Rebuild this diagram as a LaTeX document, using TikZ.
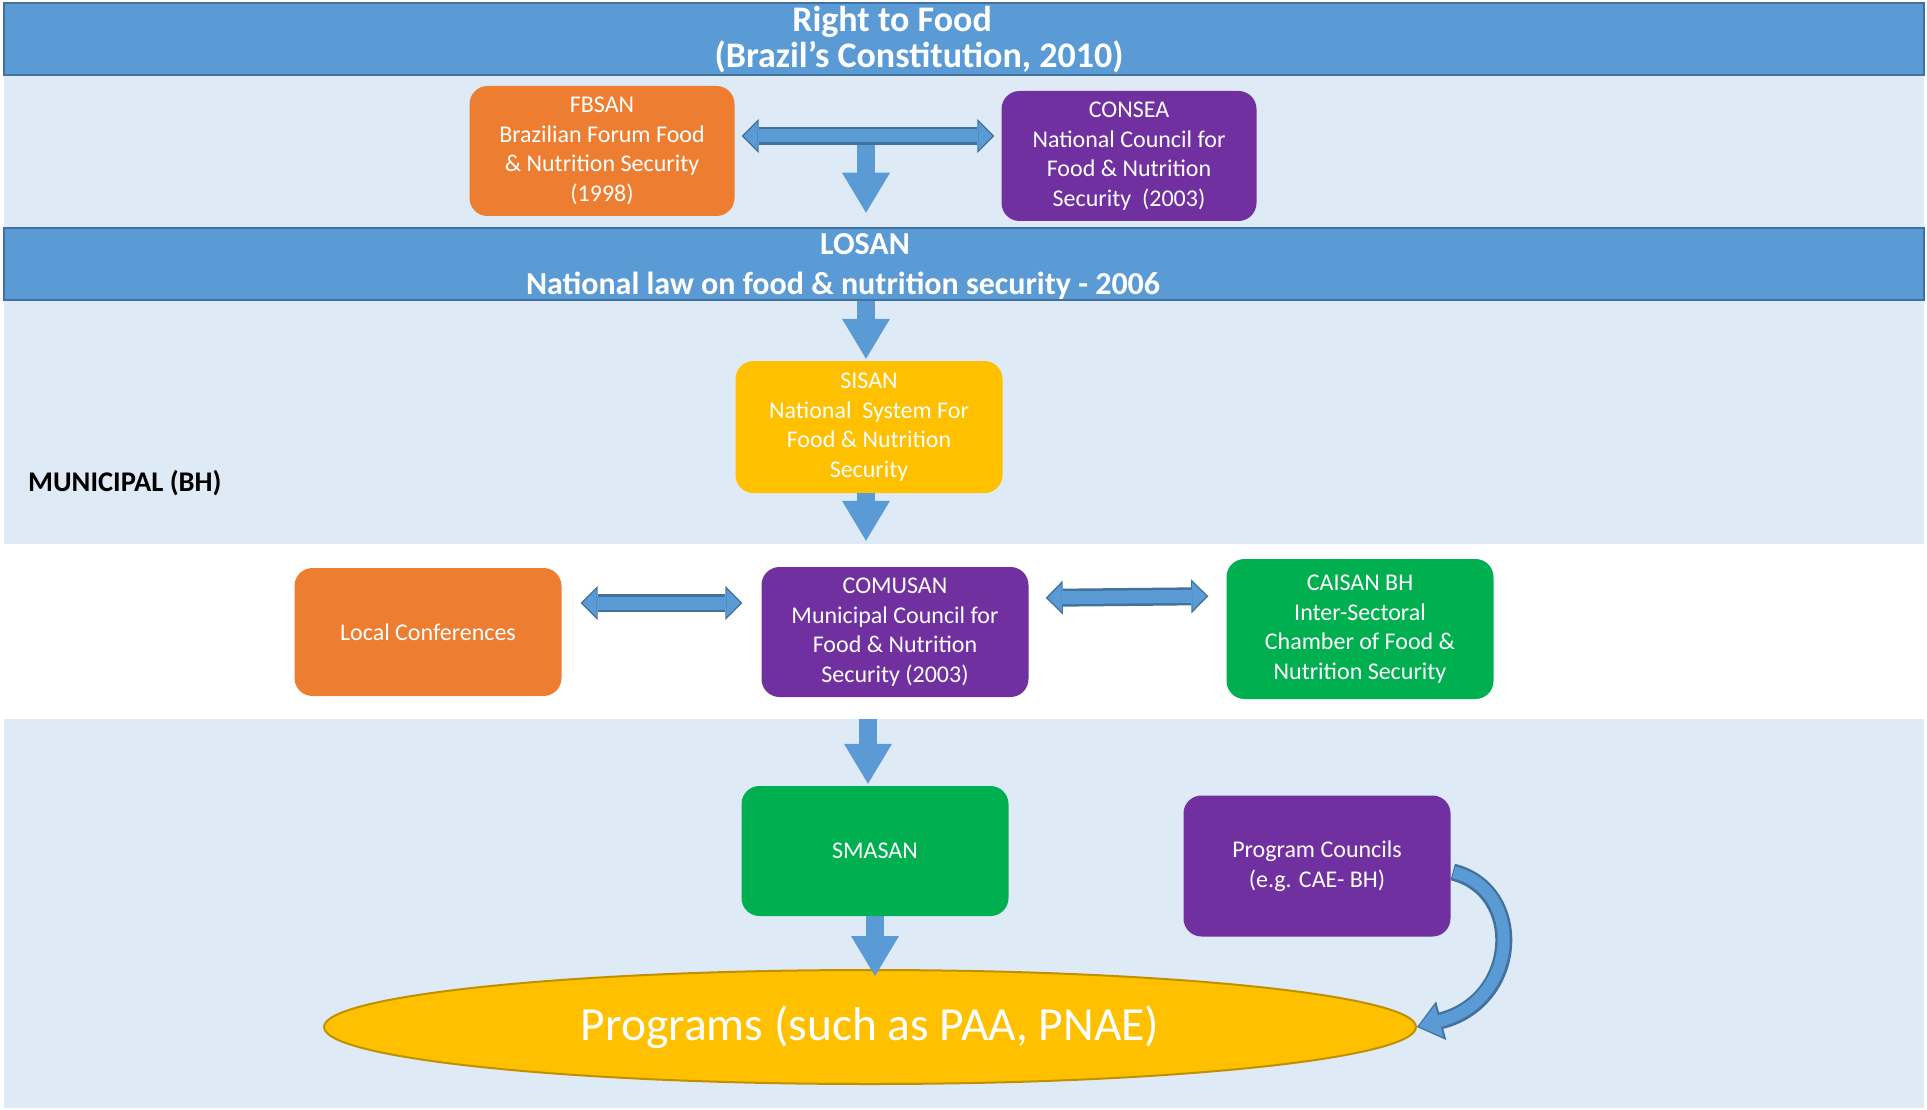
\documentclass[tikz,border=0pt]{standalone}
\usepackage{fontspec}
\setmainfont{Carlito}
\usetikzlibrary{arrows.meta,shapes.geometric,calc}
\definecolor{barblue}{HTML}{5B9BD5}
\definecolor{barline}{HTML}{41719C}
\definecolor{bandblue}{HTML}{DEEAF6}
\definecolor{forumorange}{HTML}{ED7D31}
\definecolor{councilpurple}{HTML}{7030A0}
\definecolor{chambergreen}{HTML}{00B050}
\definecolor{systemamber}{HTML}{FFC000}
\definecolor{ellipseline}{HTML}{BF9000}
\begin{document}
\begin{tikzpicture}[x=1pt, y=-1pt,
box/.style={rectangle, rounded corners=18pt, text=white, align=center, inner sep=0pt, minimum width=267pt, minimum height=130pt, font=\fontsize{24}{29.5}\selectfont},
forum/.style={box, fill=forumorange},
council/.style={box, fill=councilpurple},
chamber/.style={box, fill=chambergreen},
system/.style={box, fill=systemamber},
bar/.style={rectangle, fill=barblue, draw=barline, line width=2.5pt, minimum width=1920pt, minimum height=72pt, inner sep=0pt},
bartext/.style={text=white, align=center, inner sep=0pt, font=\fontsize{36}{36}\selectfont\bfseries},
down/.style={draw=barblue, line width=18pt, -{Triangle[width=48pt, length=40pt, line width=0pt]}},
both/.style={draw=barline, line width=18pt, {Triangle[width=34pt, length=17pt, line width=0pt]}-{Triangle[width=34pt, length=17pt, line width=0pt]}},
bothfill/.style={draw=barblue, line width=13pt, {Triangle[width=28pt, length=14pt, line width=0pt]}-{Triangle[width=28pt, length=14pt, line width=0pt]}},
feedback/.style={draw=barline, line width=17pt, -{Triangle[width=40pt, length=25pt, line width=0pt]}},
feedbackfill/.style={draw=barblue, line width=12pt, -{Triangle[width=33pt, length=21pt, line width=0pt]}},
]
\useasboundingbox (0,0) rectangle (1927,1110);
\fill[bandblue] (4,76) rectangle (1924,227);
\fill[bandblue] (4,301) rectangle (1924,544);
\fill[bandblue] (4,719) rectangle (1924,1108);
\node (rightbar) [bar] at (964,39) {};
\node (losanbar) [bar] at (964,264) {};
\node (right) [bartext] at (919,40) {\hspace*{-54pt}Right to Food\\(Brazil’s Constitution, 2010)};
\node (losan) [bartext, font=\fontsize{32}{40}\selectfont\bfseries] at (843,267) {\hspace*{44pt}LOSAN\\National law on food \& nutrition security - 2006};
\node (municipal) [anchor=west, inner sep=0pt, font=\fontsize{28.5}{34}\selectfont\bfseries] at (28,483) {MUNICIPAL (BH)};

\node (fbsan) [forum, minimum width=265pt] at (602,151) {FBSAN\\Brazilian Forum Food\\\& Nutrition Security\\(1998)};
\node (consea) [council, minimum width=255pt] at (1129,156) {CONSEA\\National Council for\\Food \& Nutrition\\Security\ \ (2003)};
\node (sisan) [system, minimum height=132pt] at (869,427) {SISAN\\National\ \ System For\\Food \& Nutrition\\Security};
\node (local) [forum, minimum height=128pt] at (428,632) {Local Conferences};
\node (comusan) [council] at (895,632) {COMUSAN\\Municipal Council for\\Food \& Nutrition\\Security (2003)};
\node (caisan) [chamber, minimum height=140pt] at (1360,629) {CAISAN BH\\Inter-Sectoral\\Chamber of Food \&\\Nutrition Security};
\node (smasan) [chamber] at (875,851) {SMASAN};
\node (pc) [council, minimum height=141pt] at (1317,866) {Program Councils\\(e.g. CAE- BH)};
\node (programs) [ellipse, fill=systemamber, draw=ellipseline, line width=2pt, minimum width=1092pt, minimum height=114pt, text=white, font=\fontsize{47.5}{56}\selectfont] at (870,1027) {Programs (such as PAA, PNAE)};

\coordinate (split) at (866,136);
\draw[down, shorten <=8pt, shorten >=14pt] (split) -- (split |- losanbar.north);
\draw[down, shorten >=2pt] (losanbar.south -| split) -- (sisan.north -| split);
\draw[down, shorten >=26pt] (sisan.south -| split) -- (comusan.north -| split);
\draw[down, shorten <=22pt, shorten >=2pt] ($(comusan.south -| split)+(2,0)$) -- ($(smasan.north -| split)+(2,0)$);
\draw[down, shorten >=-7pt] (smasan.south) -- (smasan.south |- programs.north);

\draw[both, shorten <=7pt, shorten >=7pt] (fbsan.east |- split) -- (consea.west |- split);
\draw[bothfill, shorten <=9pt, shorten >=9pt] (fbsan.east |- split) -- (consea.west |- split);
\draw[both, shorten <=19pt, shorten >=19pt] ($(local.east)+(0,-29)$) -- ($(comusan.west)+(0,-29)$);
\draw[bothfill, shorten <=21pt, shorten >=21pt] ($(local.east)+(0,-29)$) -- ($(comusan.west)+(0,-29)$);
\draw[both, shorten <=17pt, shorten >=18pt] ($(comusan.east)+(0,-34)$) -- ($(caisan.west)+(0,-33)$);
\draw[bothfill, shorten <=19pt, shorten >=20pt] ($(comusan.east)+(0,-34)$) -- ($(caisan.west)+(0,-33)$);

\draw[feedback] ($(pc.east)+(2,6)$) .. controls (1525,890) and (1520,1000) .. (programs.east);
\draw[feedbackfill, shorten <=1pt, shorten >=2pt] ($(pc.east)+(2,6)$) .. controls (1525,890) and (1520,1000) .. (programs.east);
\end{tikzpicture}
\end{document}
